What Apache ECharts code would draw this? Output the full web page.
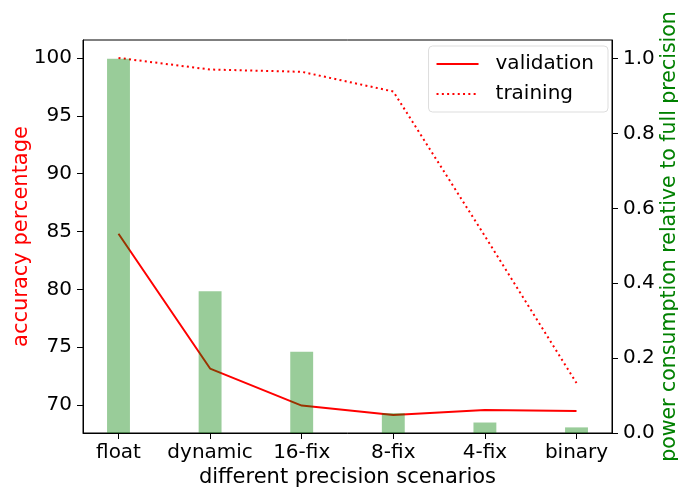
<!DOCTYPE html>
<html><head><meta charset="utf-8">
<script src="https://cdn.jsdelivr.net/npm/echarts@6/dist/echarts.min.js"></script>
<style>html,body{margin:0;padding:0;background:#fff}#c{width:678px;height:487px}</style>
</head><body><div id="c"></div>
<script>
const categories = ['float','dynamic','16-fix','8-fix','4-fix','binary'];
const validation = [84.8, 73.15, 69.95, 69.13, 69.57, 69.48];
const training = [100.0, 99.0, 98.8, 97.1, 84.6, 71.9];
const power = [1.0, 0.379, 0.217, 0.053, 0.028, 0.015];
const leftTicks = [70, 75, 80, 85, 90, 95, 100];
const rightTicks = [0.0, 0.2, 0.4, 0.6, 0.8, 1.0];
const catIdx = categories.map((_, i) => i);

const FONT = 'DejaVu Sans';
const FS = 20;
const chart = echarts.init(document.getElementById('c'));
chart.setOption({
  animation: false,
  textStyle: { fontFamily: FONT },
  grid: { left: 83, right: 66, top: 40, bottom: 54, show: true, borderColor: '#000', borderWidth: 1,
    containLabel: false, outerBoundsMode: 'none' },
  legend: {
    right: 70, top: 46, orient: 'vertical',
    padding: [8, 14, 8, 7], itemGap: 10, itemWidth: 42, itemHeight: 20,
    backgroundColor: 'rgba(255,255,255,0.8)', borderColor: '#ddd', borderWidth: 1, borderRadius: 4,
    itemStyle: { opacity: 0 },
    textStyle: { fontFamily: FONT, fontSize: FS, color: '#000', padding: [0, 0, 0, 12] },
    data: ['validation', 'training']
  },
  xAxis: {
    type: 'value', min: -0.3875, max: 5.3875,
    name: 'different precision scenarios', nameLocation: 'middle', nameGap: 34, nameMoveOverlap: false,
    nameTextStyle: { fontFamily: FONT, fontSize: 21, color: '#000' },
    axisLine: { show: true, onZero: false, lineStyle: { color: '#000', width: 1 } },
    axisTick: { show: true, length: 6, customValues: catIdx, lineStyle: { color: '#000' } },
    axisLabel: { customValues: catIdx, margin: 10, fontSize: FS, color: '#000', fontFamily: FONT,
      formatter: v => categories[Math.round(v)] },
    splitLine: { show: false }
  },
  yAxis: [{
    type: 'value', min: 67.58, max: 101.55, position: 'left',
    name: 'accuracy percentage', nameLocation: 'middle', nameGap: 51, nameRotate: 90, nameMoveOverlap: false,
    nameTextStyle: { fontFamily: FONT, fontSize: 21, color: '#ff0000' },
    axisLine: { show: true, onZero: false, lineStyle: { color: '#000', width: 1 } },
    axisTick: { show: true, length: 6, customValues: leftTicks, lineStyle: { color: '#000' } },
    axisLabel: { customValues: leftTicks, margin: 11, fontSize: FS, color: '#000', fontFamily: FONT },
    splitLine: { show: false }
  }, {
    type: 'value', min: 0, max: 1.05, position: 'right',
    name: 'power consumption relative to full precision', nameLocation: 'middle', nameGap: 47, nameRotate: 90, nameMoveOverlap: false,
    nameTextStyle: { fontFamily: FONT, fontSize: 20.5, color: '#008000' },
    axisLine: { show: true, onZero: false, lineStyle: { color: '#000', width: 1 } },
    axisTick: { show: true, length: 6, customValues: rightTicks, lineStyle: { color: '#000' } },
    axisLabel: { customValues: rightTicks, margin: 11, fontSize: FS, color: '#000', fontFamily: FONT,
      formatter: v => v.toFixed(1) },
    splitLine: { show: false }
  }],
  series: [{
    name: 'validation', type: 'line', yAxisIndex: 0, symbol: 'none', showSymbol: false,
    data: validation.map((v, i) => [i, v]),
    lineStyle: { color: '#ff0000', width: 2 }, itemStyle: { color: '#ff0000' }, z: 2
  }, {
    name: 'training', type: 'line', yAxisIndex: 0, symbol: 'none', showSymbol: false,
    data: training.map((v, i) => [i, v]),
    lineStyle: { color: '#ff0000', width: 2, type: [2, 3.3] }, itemStyle: { color: '#ff0000' }, z: 2
  }, {
    name: 'power', type: 'bar', yAxisIndex: 1, barWidth: 22.9,
    data: power.map((v, i) => [i, v]),
    itemStyle: { color: 'rgba(0,128,0,0.4)' }, z: 3
  }]
});
</script></body></html>
